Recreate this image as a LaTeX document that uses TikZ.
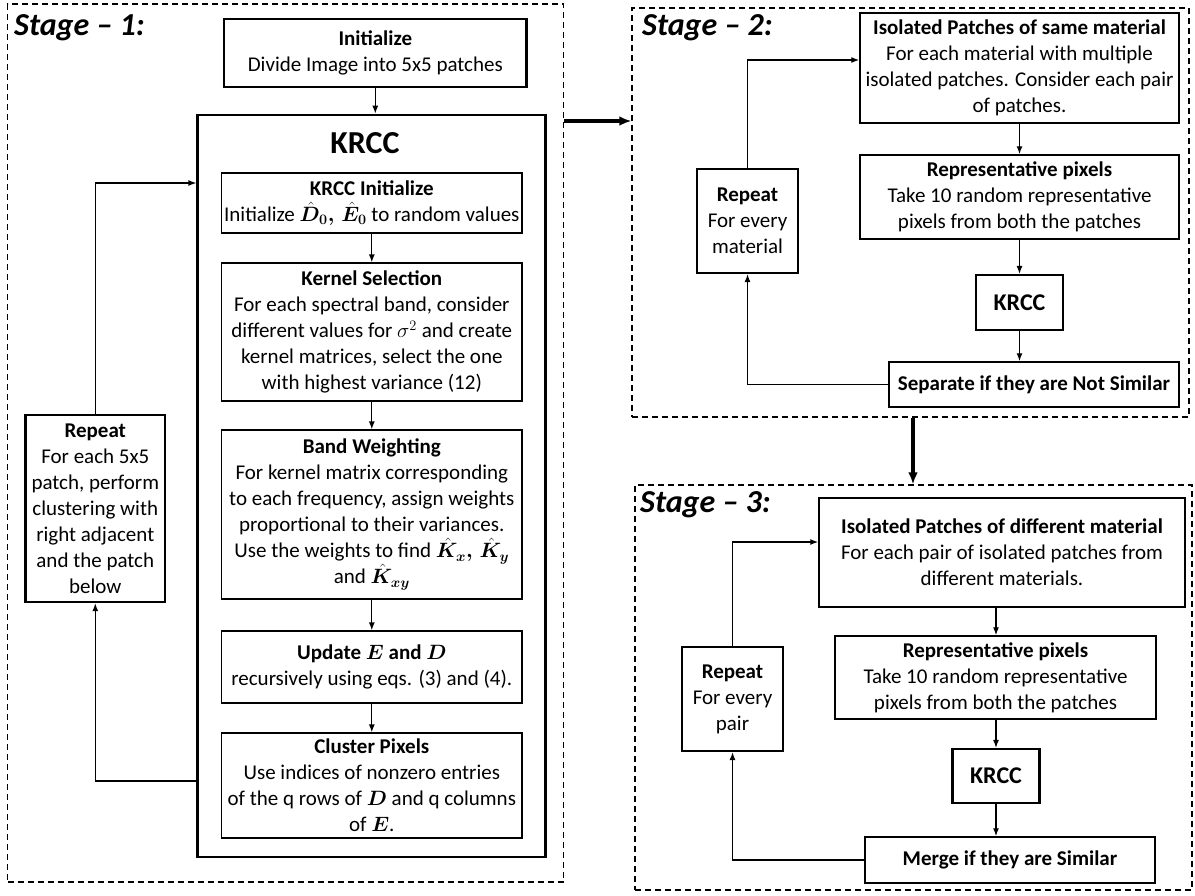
\documentclass[tikz,border=0pt]{standalone}
\usepackage{amsmath}
\usepackage{bm}
\usepackage{fontspec}
\setmainfont{Carlito}
\usetikzlibrary{arrows.meta}
\begin{document}
\begin{tikzpicture}[x=1pt,y=-1pt,
 every node/.style={inner sep=0pt, align=center, font=\fontsize{21}{26}\selectfont},
 bx/.style={draw, line width=1.2pt},
 bxthick/.style={draw, line width=2.4pt},
 stg/.style={draw, dash pattern=on 6pt off 4pt, line width=1.5pt},
 conn/.style={line width=1.3pt, -{Latex[length=8pt,width=6pt]}},
 bigarrow/.style={line width=3.5pt, -{Latex[length=12pt,width=10pt]}},
 lbl/.style={font=\fontsize{32}{36}\selectfont\bfseries\itshape, anchor=west}
]
\useasboundingbox (0,0) rectangle (1195,895);

% ---------------- Stage 1 ----------------
\node[stg, minimum width=556pt, minimum height=878pt] (s1) at (285.6,443) {};
\node[lbl] (l1) at (14,28) {Stage -- 1:};

\node[bxthick, minimum width=302.6pt, minimum height=68pt] (init) at (375.3,53)
 {\textbf{Initialize}\\Divide Image into 5x5 patches};

\node[bxthick, line width=2.6pt, minimum width=348pt, minimum height=742pt] (krcc) at (371.7,486) {};
\node[font=\fontsize{32}{36}\selectfont\bfseries] (krcct) at (365,143) {KRCC};

\node[bx, minimum width=300.4pt, minimum height=60pt] (kinit) at (371.8,203)
 {\textbf{KRCC Initialize}\\Initialize $\hat{\bm{D}}_{\bm{0}}\bm{,}\,\hat{\bm{E}}_{\bm{0}}$ to random values};

\node[bx, minimum width=300.4pt, minimum height=138pt] (kern) at (371.8,332)
 {\textbf{Kernel Selection}\\For each spectral band, consider\\different values for $\sigma^2$ and create\\kernel matrices, select the one\\with highest variance (12)};

\node[bx, minimum width=300.4pt, minimum height=169pt] (band) at (371.8,514.5)
 {\textbf{Band Weighting}\\For kernel matrix corresponding\\to each frequency, assign weights\\proportional to their variances.\\Use the weights to find $\hat{\bm{K}}_{\bm{x}}\bm{,}\,\hat{\bm{K}}_{\bm{y}}$\\and $\hat{\bm{K}}_{\bm{xy}}$};

\node[bx, minimum width=300.4pt, minimum height=72pt] (upd) at (371.8,667)
 {\textbf{Update $\bm{E}$ and $\bm{D}$}\\recursively using eqs. (3) and (4).};

\node[bx, minimum width=300.4pt, minimum height=105pt] (clus) at (371.8,785.5)
 {\textbf{Cluster Pixels}\\Use indices of nonzero entries\\of the q rows of $\bm{D}$ and q columns\\of $\bm{E}$.};

\node[bxthick, minimum width=139.4pt, minimum height=187pt] (rep1) at (95.3,508.5)
 {\textbf{Repeat}\\For each 5x5\\patch, perform\\clustering with\\right adjacent\\and the patch\\below};

\draw[conn] (init.south) -- (init.south |- krcc.north);
\draw[conn] (kinit.south) -- (kern.north);
\draw[conn] (kern.south) -- (band.north);
\draw[conn] (band.south) -- (upd.north);
\draw[conn] (upd.south) -- (clus.north);

\coordinate (c1top) at (0,183);
\coordinate (c1bot) at (0,781);
\draw[conn] (rep1.north) |- (krcc.west |- c1top);
\draw[conn] (krcc.west |- c1bot) -| (rep1.south);

% ---------------- Stage 2 ----------------
\node[stg, minimum width=557pt, minimum height=409pt] (s2) at (910.5,212.5) {};
\node[lbl] (l2) at (642,28) {Stage -- 2:};

\node[bx, line width=1.5pt, minimum width=319pt, minimum height=110pt] (iso2) at (1019.5,68)
 {\textbf{Isolated Patches of same material}\\For each material with multiple\\isolated patches. Consider each pair\\of patches.};

\node[bx, line width=1.5pt, minimum width=319pt, minimum height=84pt] (rp2) at (1019.5,197)
 {\textbf{Representative pixels}\\Take 10 random representative\\pixels from both the patches};

\node[bxthick, line width=2.2pt, minimum width=87pt, minimum height=55pt, font=\fontsize{24}{28}\selectfont\bfseries] (k2) at (1019.5,302.5) {KRCC};

\node[bx, line width=1.5pt, minimum width=290pt, minimum height=45pt] (sep) at (1034,384.5)
 {\textbf{Separate if they are Not Similar}};

\node[bxthick, line width=2.2pt, minimum width=101pt, minimum height=104pt] (rep2) at (747.5,221)
 {\textbf{Repeat}\\For every\\material};

\draw[conn] (iso2.south) -- (rp2.north);
\draw[conn] (rp2.south) -- (k2.north);
\draw[conn] (k2.south) -- (k2.south |- sep.north);

\coordinate (c2top) at (0,60);
\draw[conn] (rep2.north) |- (iso2.west |- c2top);
\draw[conn] (sep.west) -| (rep2.south);

% ---------------- Stage 3 ----------------
\node[stg, minimum width=557pt, minimum height=405pt] (s3) at (913.5,687.5) {};
\node[lbl] (l3) at (640,505) {Stage -- 3:};

\node[bx, line width=1.5pt, minimum width=366pt, minimum height=109pt] (iso3) at (1002,552.5)
 {\textbf{Isolated Patches of different material}\\For each pair of isolated patches from\\different materials.};

\node[bx, line width=1.5pt, minimum width=321pt, minimum height=83pt] (rp3) at (995.5,677.5)
 {\textbf{Representative pixels}\\Take 10 random representative\\pixels from both the patches};

\node[bxthick, line width=2.2pt, minimum width=87pt, minimum height=54pt, font=\fontsize{24}{28}\selectfont\bfseries] (k3) at (996,776) {KRCC};

\node[bx, line width=1.5pt, minimum width=290pt, minimum height=46pt] (merge) at (1010,860)
 {\textbf{Merge if they are Similar}};

\node[bxthick, line width=2.2pt, minimum width=101pt, minimum height=104pt] (rep3) at (732.5,699)
 {\textbf{Repeat}\\For every\\pair};

\coordinate (x3) at (996,0);
\draw[conn] (iso3.south -| x3) -- (rp3.north -| x3);
\draw[conn] (rp3.south -| x3) -- (k3.north -| x3);
\draw[conn] (k3.south -| x3) -- (merge.north -| x3);

\coordinate (c3top) at (0,542);
\draw[conn] (rep3.north) |- (iso3.west |- c3top);
\draw[conn] (merge.west) -| (rep3.south);

% ---------------- Stage links ----------------
\coordinate (a12) at (0,121);
\coordinate (a23) at (913,0);
\draw[bigarrow] (s1.east |- a12) -- (s2.west |- a12);
\draw[bigarrow] (s2.south -| a23) -- (s3.north -| a23);
\end{tikzpicture}
\end{document}
